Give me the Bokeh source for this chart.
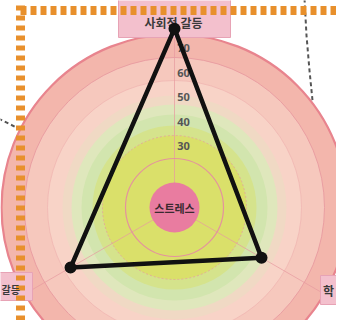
import numpy as np
from bokeh.plotting import figure
from bokeh.models import Range1d
from bokeh.core.properties import value
from bokeh.embed import file_html
from bokeh.resources import INLINE

# ---- data ----
categories = ["사회적 갈등", "학", "갈등"]      # visible axis labels (top, lower right, lower left)
angles_deg = [90, -30, 210]
values = [78, 46, 54]
tick_values = [30, 40, 50, 60, 70]
tick_labels = ["30", "40", "50", "60", "70"]
center_label = "스트레스"
R0 = 5  # value at the centre of the radial scale

# ---- layout helpers (pixel -> data) ----
K = 2.45            # pixels per value unit
CX, CY = 174, 207   # centre of radar in picture pixels
W, H = 336, 320


def sx(px):
    return (px - CX) / K


def sy(py):
    return (CY - py) / K


def L(px):
    return px / K


p = figure(width=W, height=H,
           x_range=Range1d(sx(0), sx(W)), y_range=Range1d(sy(H), sy(0)),
           output_backend="svg", toolbar_location=None, min_border=0,
           x_axis_type=None, y_axis_type=None,
           background_fill_color="white", border_fill_color="white",
           outline_line_color=None)
p.grid.visible = False

# ---- background bands ----
bands = [
    (173, "#F3B6AC", "#E8848E", 2.2),
    (150, "#F6C8BD", "#E99EA2", 1.0),
    (127, "#F8D3C7", "#F0B6B2", 0.8),
    (112, "#F0D9C4", None, 0),
    (103, "#DFE7BC", None, 0),
    (93, "#D2E5AE", None, 0),
    (82, "#D5E38C", None, 0),
    (72, "#DAE06A", None, 0),
]
for r, fc, lc, lw in bands:
    p.circle(x=[0], y=[0], radius=L(r), fill_color=fc,
             line_color=lc if lc else None, line_width=lw)

# spokes
for a in angles_deg:
    t = np.deg2rad(a)
    p.line([0, L(173) * np.cos(t)], [0, L(173) * np.sin(t)],
           line_color="#E79AA0", line_width=1, line_alpha=0.7)

# ring lines
p.circle(x=[0], y=[0], radius=L(72), fill_color=None, line_color="#E59AA0",
         line_width=1, line_dash="2 2", line_alpha=0.7)
p.circle(x=[0], y=[0], radius=L(49), fill_color=None, line_color="#E4939D",
         line_width=1.2)
p.circle(x=[0], y=[0], radius=L(25), fill_color="#E97CA0", line_color=None)

# tick labels along vertical axis
p.text(x=[L(9)] * len(tick_values), y=[v - R0 for v in tick_values], text=tick_labels,
       text_font=value("Noto Sans"), text_font_size="11px", text_font_style="bold",
       text_color="#555555", text_align="center", text_baseline="middle")

p.text(x=[0], y=[0], text=[center_label], text_font=value("Noto Sans CJK KR"),
       text_font_size="11px", text_font_style="bold", text_color="#3a2a30",
       text_align="center", text_baseline="middle")

# axis label boxes
p.quad(left=[sx(118)], right=[sx(230)], top=[sy(-2)], bottom=[sy(37)],
       fill_color="#F3C0CD", line_color="#E7A3B5", line_width=1)
p.quad(left=[sx(-5)], right=[sx(32)], top=[sy(272)], bottom=[sy(300)],
       fill_color="#F3C0CD", line_color="#E7A3B5", line_width=1)
p.quad(left=[sx(320)], right=[sx(345)], top=[sy(275)], bottom=[sy(304)],
       fill_color="#F3C0CD", line_color="#E7A3B5", line_width=1)

# ---- page decorations ----
p.line([sx(304), sx(306), sx(309), sx(312)], [sy(-2), sy(35), sy(70), sy(100)],
       line_color="#555555", line_width=2, line_dash="4 3")
p.line([sx(-2), sx(18)], [sy(118), sy(128)],
       line_color="#555555", line_width=2, line_dash="4 3")
p.line([sx(20), sx(345)], [sy(10), sy(10)], line_color="#E8902C",
       line_width=9, line_dash="6 4")
p.line([sx(20), sx(20)], [sy(5), sy(335)], line_color="#E8902C",
       line_width=9, line_dash="5 5")

# axis labels
p.text(x=[sx(173), sx(328)], y=[sy(22), sy(290)], text=categories[:2],
       text_font=value("Noto Sans CJK KR"), text_font_size="12px",
       text_font_style="bold", text_color="#3a3a3a",
       text_align="center", text_baseline="middle")
p.text(x=[sx(1)], y=[sy(289)], text=[categories[2]],
       text_font=value("Noto Sans CJK KR"), text_font_size="10px",
       text_font_style="bold", text_color="#3a3a3a",
       text_align="left", text_baseline="middle")

# ---- radar polygon ----
ang = np.deg2rad(angles_deg)
rv = np.array(values) - R0
xs = list(rv * np.cos(ang))
ys = list(rv * np.sin(ang))
p.line(xs + [xs[0]], ys + [ys[0]], line_color="#111111", line_width=4.5,
       line_join="round")
p.scatter(xs, ys, size=12, fill_color="#111111", line_color=None)

open("out.html", "w").write(file_html(p, INLINE))
